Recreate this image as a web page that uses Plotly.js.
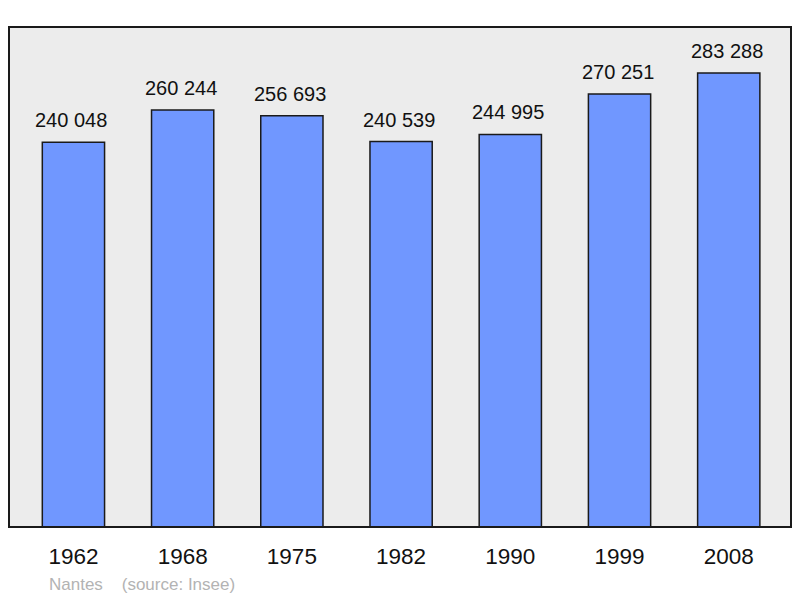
<!DOCTYPE html>
<html>
<head>
<meta charset="utf-8">
<script src="https://cdn.plot.ly/plotly-3.0.1.min.js"></script>
<style>
  body { margin: 0; background: #ffffff; }
  #chart { width: 800px; height: 598px; }
</style>
</head>
<body>
<div id="chart"></div>
<script>
// Population data (Nantes, source: Insee)
let years = ["1962", "1968", "1975", "1982", "1990", "1999", "2008"];
let population = [240048, 260244, 256693, 240539, 244995, 270251, 283288];
let value_labels = ["240 048", "260 244", "256 693", "240 539", "244 995", "270 251", "283 288"];

let bars = {
  x: years,
  y: population,
  type: 'bar',
  width: 0.57,
  marker: {
    color: '#7097ff',
    line: { color: '#1a1a1a', width: 1.5 }
  },
  hoverinfo: 'none',
  showlegend: false
};

// Labels above each bar (category axis -> use the serial index)
let annotations = years.map((yr, i) => ({
  x: i,
  y: population[i],
  xref: 'x',
  yref: 'y',
  text: value_labels[i],
  showarrow: false,
  yanchor: 'bottom',
  yshift: 9,
  xshift: -2,
  font: { family: 'Liberation Sans, Arial, sans-serif', size: 20, color: '#111111' }
}));

annotations.push({
  xref: 'paper',
  yref: 'paper',
  x: 0.049,
  y: -0.115,
  xanchor: 'left',
  yanchor: 'middle',
  text: 'Nantes&nbsp;&nbsp;&nbsp;&nbsp;(source: Insee)',
  showarrow: false,
  font: { family: 'Liberation Sans, Arial, sans-serif', size: 17, color: '#b3b3b3' }
});

let layout = {
  width: 800,
  height: 598,
  margin: { l: 9, r: 9, t: 27, b: 71 },
  paper_bgcolor: '#ffffff',
  plot_bgcolor: '#ececec',
  xaxis: {
    type: 'category',
    range: [-0.59, 6.57],
    showgrid: false,
    zeroline: false,
    showline: false,
    ticks: '',
    ticklabelstandoff: 13,
    tickfont: { family: 'Liberation Sans, Arial, sans-serif', size: 22.5, color: '#111111' },
    fixedrange: true
  },
  yaxis: {
    range: [0, 312000],
    showgrid: false,
    zeroline: false,
    showline: false,
    showticklabels: false,
    ticks: '',
    fixedrange: true
  },
  shapes: [{
    type: 'rect',
    xref: 'paper',
    yref: 'paper',
    x0: 0, x1: 1, y0: 0, y1: 1,
    line: { color: '#1a1a1a', width: 2 },
    layer: 'above'
  }],
  annotations: annotations
};

Plotly.newPlot('chart', [bars], layout, { displayModeBar: false, staticPlot: true });
</script>
</body>
</html>
